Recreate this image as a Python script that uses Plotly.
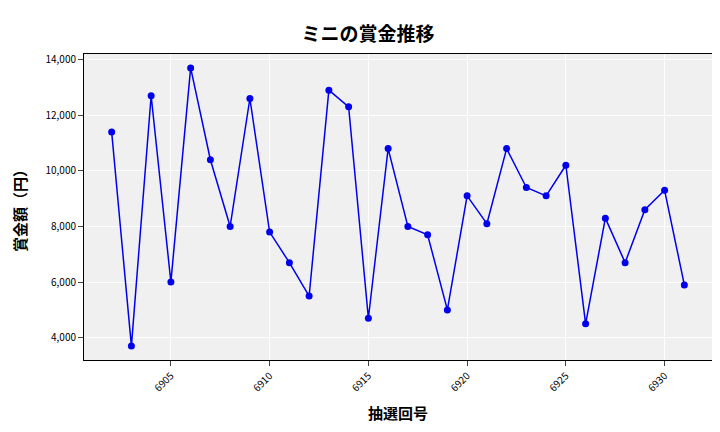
import plotly.graph_objects as go

draws = list(range(6902, 6932))
prizes = [11400, 3700, 12700, 6000, 13700, 10400, 8000, 12600, 7800, 6700,
          5500, 12900, 12300, 4700, 10800, 8000, 7700, 5000, 9100, 8100,
          10800, 9400, 9100, 10200, 4500, 8300, 6700, 8600, 9300, 5900]

font = "Noto Sans CJK JP"
fig = go.Figure(go.Scatter(
    x=draws, y=prizes, mode="lines+markers",
    line=dict(color="#0000ee", width=1.5),
    marker=dict(color="#0000ee", size=7),
))
fig.update_layout(
    width=720, height=432,
    margin=dict(l=73, r=16, t=46, b=80),
    paper_bgcolor="white", plot_bgcolor="#f0f0f0",
    font=dict(family=font, color="black"),
    title=dict(text="<b>ミニの賞金推移</b>", x=0.5, y=0.955, xanchor="center",
               font=dict(size=19)),
    showlegend=False,
)
fig.update_xaxes(title=dict(text="<b>抽選回号</b>", font=dict(size=15)),
                 tickvals=[6905, 6910, 6915, 6920, 6925, 6930], tickangle=-45,
                 tickfont=dict(size=10), gridcolor="white", showline=True,
                 linecolor="black", mirror=True, ticks="outside",
                 range=[6900.6, 6932.4], zeroline=False)
fig.update_yaxes(title=dict(text="<b>賞金額（円）</b>", font=dict(size=15)),
                 tickformat=",", dtick=2000, tickfont=dict(size=10),
                 gridcolor="white", showline=True, linecolor="black",
                 mirror=True, ticks="outside", range=[3200, 14200],
                 zeroline=False)
fig.write_html("out.html")
